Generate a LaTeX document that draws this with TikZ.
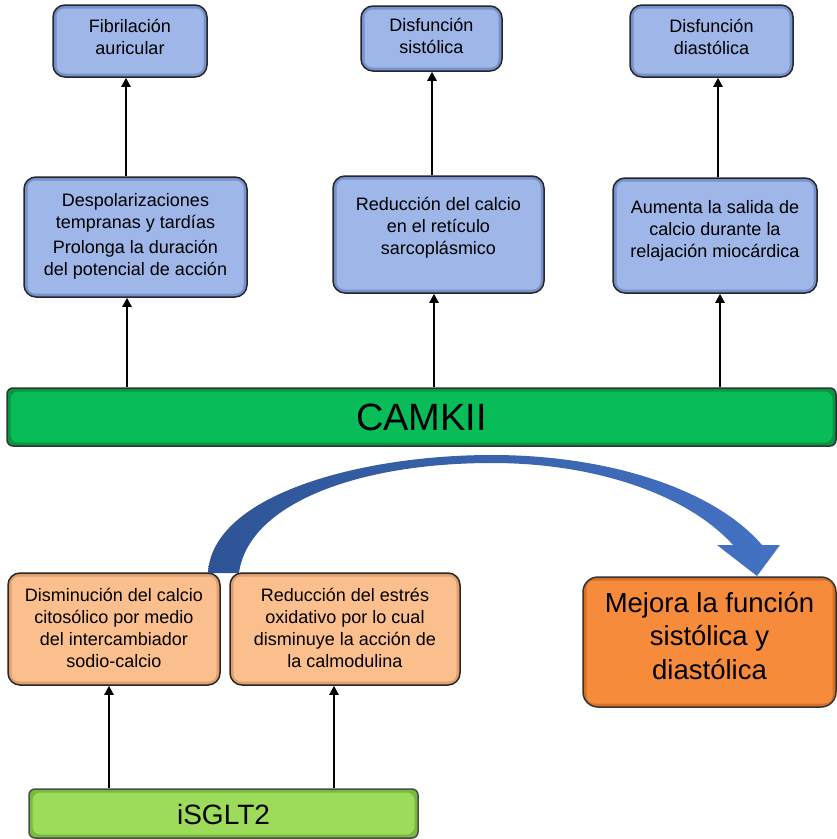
\documentclass[tikz,border=0pt]{standalone}
\usepackage{fontspec}
\setmainfont{Liberation Sans}
\usetikzlibrary{arrows.meta}

\definecolor{blueEdge}{RGB}{118,145,204}
\definecolor{blueFill}{RGB}{158,182,232}
\definecolor{orEdge}{RGB}{222,160,110}
\definecolor{orFill}{RGB}{251,191,142}
\definecolor{bigEdge}{RGB}{214,112,40}
\definecolor{bigFill}{RGB}{246,139,60}
\definecolor{camEdge}{RGB}{6,150,68}
\definecolor{camFill}{RGB}{8,188,87}
\definecolor{sgEdge}{RGB}{120,185,62}
\definecolor{sgFill}{RGB}{156,220,90}
\definecolor{arcDark}{RGB}{46,84,150}
\definecolor{arcLight}{RGB}{68,114,196}

\tikzset{
  bevel/.style 2 args={fill=#1, draw=black!85, line width=1.5pt, inner sep=0pt,
    path picture={\fill[#2, rounded corners=8pt]
      ([shift={(3.5pt,-3.5pt)}]path picture bounding box.north west) rectangle
      ([shift={(-3.5pt,3.5pt)}]path picture bounding box.south east);}},
  bluebox/.style={bevel={blueEdge}{blueFill}, rounded corners=12pt},
  orbox/.style={bevel={orEdge}{orFill}, rounded corners=12pt},
  bigbox/.style={bevel={bigEdge}{bigFill}, rounded corners=15pt, draw=black!80},
  cambar/.style={bevel={camEdge}{camFill}, rounded corners=6pt, draw=black!80},
  sgbar/.style={bevel={sgEdge}{sgFill}, rounded corners=6pt, draw=black!70},
  txt/.style={align=center, inner sep=0pt, font=\fontsize{18}{22}\selectfont},
  arr/.style={draw=black, line width=2.5pt, -{Triangle[length=9pt,width=9pt]}},
}

\begin{document}
\begin{tikzpicture}[x=1pt,y=-1pt]
\useasboundingbox (0,0) rectangle (837,839);

% effects, top row
\node[bluebox, minimum width=154pt, minimum height=72pt] (fib) at (130,41) {};
\node[bluebox, minimum width=141pt, minimum height=65pt] (sis) at (431.5,38.5) {};
\node[bluebox, minimum width=163pt, minimum height=72pt] (dia) at (711.5,41) {};
\node[txt] (fibT) at (130,36.5) {Fibrilación\\auricular};
\node[txt] (sisT) at (431.5,36) {Disfunción\\sistólica};
\node[txt] (diaT) at (711.5,36.5) {Disfunción\\diastólica};

% mechanisms, middle row
\node[bluebox, minimum width=223pt, minimum height=120pt] (desp) at (135.5,237) {};
\node[bluebox, minimum width=211pt, minimum height=117pt] (red) at (438.5,234.5) {};
\node[bluebox, minimum width=204pt, minimum height=115pt] (aum) at (715,235.5) {};
\node[txt] (despT) at (135.5,236) {Despolarizaciones\\tempranas y tardías\\[3pt]Prolonga la duración\\del potencial de acción};
\node[txt] (redT) at (438.5,228) {Reducción del calcio\\en el retículo\\sarcoplásmico};
\node[txt] (aumT) at (715,231) {Aumenta la salida de\\calcio durante la\\relajación miocárdica};

% kinase bar
\node[cambar, minimum width=829pt, minimum height=58pt] (camk) at (421.5,417) {};
\node[inner sep=0pt, font=\fontsize{38}{40}\selectfont] (camkT) at (421.5,417) {CAMKII};

% inhibitor effects
\node[orbox, minimum width=212pt, minimum height=112pt] (or1) at (114,629) {};
\node[orbox, minimum width=230pt, minimum height=112pt] (or2) at (345,629) {};
\node[txt] (or1T) at (114,628) {Disminución del calcio\\citosólico por medio\\del intercambiador\\sodio-calcio};
\node[txt] (or2T) at (345,628) {Reducción del estrés\\oxidativo por lo cual\\disminuye la acción de\\la calmodulina};

\node[bigbox, minimum width=253pt, minimum height=130pt] (big) at (709.5,642) {};
\node[align=center, inner sep=0pt, font=\fontsize{27.5}{34}\selectfont] (bigT) at (709.5,636) {Mejora la función\\sistólica y\\diastólica};

% inhibitor bar
\node[sgbar, minimum width=389pt, minimum height=49pt] (sglt) at (223.5,813.5) {};
\node[inner sep=0pt, font=\fontsize{28}{30}\selectfont] (sgltT) at (223.5,814) {iSGLT2};

% connector columns
\coordinate (u1) at (126,0);
\coordinate (u2) at (432,0);
\coordinate (u3) at (718,0);
\coordinate (l1) at (127,0);
\coordinate (l2) at (434,0);
\coordinate (l3) at (720,0);
\coordinate (s1) at (109,0);
\coordinate (s2) at (334,0);

\draw[arr] (desp.north -| u1) -- (fib.south -| u1);
\draw[arr] (red.north -| u2) -- (sis.south -| u2);
\draw[arr] (aum.north -| u3) -- (dia.south -| u3);
\draw[arr] (camk.north -| l1) -- (desp.south -| l1);
\draw[arr] (camk.north -| l2) -- (red.south -| l2);
\draw[arr] (camk.north -| l3) -- (aum.south -| l3);
\draw[arr] (sglt.north -| s1) -- (or1.south -| s1);
\draw[arr] (sglt.north -| s2) -- (or2.south -| s2);

% curved block arrow towards the outcome
\shade[left color=arcDark, right color=arcLight]
  (208,573) .. controls (212,495) and (360,455) .. (492,455)
  .. controls (610,455) and (715,490) .. (762,545)
  -- (780,545) -- (757,576) -- (717,545) -- (733,545)
  .. controls (690,497) and (600,463) .. (492,463)
  .. controls (355,463) and (248,505) .. (239,573) -- cycle;
\end{tikzpicture}
\end{document}
